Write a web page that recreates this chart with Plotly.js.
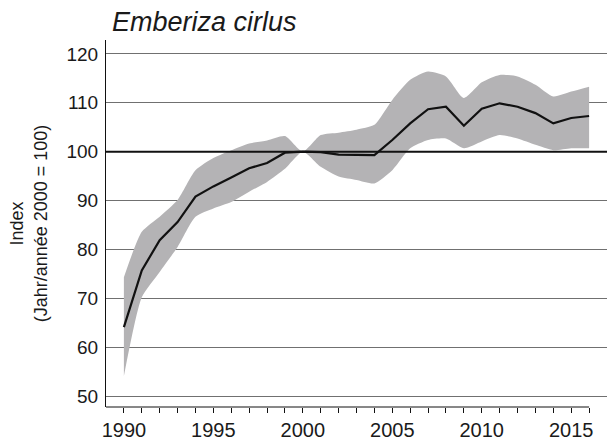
<!DOCTYPE html>
<html>
<head>
<meta charset="utf-8">
<script src="https://cdn.plot.ly/plotly-3.0.1.min.js"></script>
<style>
  html, body { margin: 0; padding: 0; background: #ffffff; }
  #chart { width: 607px; height: 445px; }
</style>
</head>
<body>
<div id="chart"></div>
<script>
// Breeding population index of the Cirl Bunting, base year 2000 = 100
const years = [1990, 1991, 1992, 1993, 1994, 1995, 1996, 1997, 1998, 1999,
               2000, 2001, 2002, 2003, 2004, 2005, 2006, 2007, 2008, 2009,
               2010, 2011, 2012, 2013, 2014, 2015, 2016];

const indexValues = [64.1, 75.7, 81.9, 85.6, 90.8, 92.9, 94.7, 96.6, 97.7, 99.8,
                     100.0, 99.9, 99.4, 99.4, 99.3, 102.4, 105.8, 108.7, 109.2, 105.3,
                     108.8, 109.9, 109.2, 107.9, 105.8, 106.9, 107.3];

// Confidence interval around the index
const upperBound = [74.3, 83.6, 86.7, 90.1, 96.2, 98.7, 100.3, 101.7, 102.3, 103.2,
                    100.0, 103.4, 103.9, 104.5, 105.5, 110.6, 114.7, 116.4, 115.4, 111.0,
                    114.2, 115.7, 115.4, 113.7, 111.3, 112.3, 113.3];

const lowerBound = [54.1, 70.2, 75.4, 80.5, 86.7, 88.4, 89.7, 91.8, 93.8, 96.5,
                    100.0, 96.9, 94.9, 94.2, 93.5, 96.2, 100.7, 102.4, 102.7, 100.7,
                    102.1, 103.4, 102.7, 101.4, 100.3, 100.7, 100.7];

const yTicks = [50, 60, 70, 80, 90, 100, 110, 120];
const xTickYears = years;
const xTickText = years.map(y => (y % 5 === 0 ? String(y) : ''));

const baseValue = 100;
const speciesName = 'Emberiza cirlus';
const yTitle = 'Index<br>(Jahr/année 2000 = 100)';

const FONT = '"Liberation Sans", Arial, sans-serif';
const BAND = '#b4b3b5';

const traces = [
  {
    x: years, y: lowerBound, type: 'scatter', mode: 'lines',
    line: { width: 0, shape: 'spline', smoothing: 0.6 },
    hoverinfo: 'skip', showlegend: false
  },
  {
    x: years, y: upperBound, type: 'scatter', mode: 'lines',
    fill: 'tonexty', fillcolor: BAND,
    line: { width: 0, shape: 'spline', smoothing: 0.6 },
    hoverinfo: 'skip', showlegend: false
  },
  {
    x: years, y: indexValues, type: 'scatter', mode: 'lines',
    line: { color: '#111111', width: 2.2 },
    showlegend: false
  }
];

const layout = {
  width: 607, height: 445,
  margin: { l: 106, r: 0, t: 40, b: 38 },
  paper_bgcolor: '#ffffff', plot_bgcolor: '#ffffff',
  font: { family: FONT, color: '#1a1a1a' },
  showlegend: false,
  title: {
    text: '<i>' + speciesName + '</i>',
    font: { family: FONT, size: 27, color: '#1a1a1a' },
    xref: 'container', yref: 'container',
    x: 112 / 607, xanchor: 'left',
    y: 1 - 22 / 445, yanchor: 'middle'
  },
  xaxis: {
    range: [1989, 2017],
    showgrid: false, zeroline: false, showline: false,
    tickmode: 'array', tickvals: xTickYears, ticktext: xTickText,
    ticks: 'outside', ticklen: 5, tickwidth: 1, tickcolor: '#111111',
    tickfont: { family: FONT, size: 20, color: '#1a1a1a' },
    fixedrange: true
  },
  yaxis: {
    range: [47.75, 122.86],
    tickmode: 'array', tickvals: yTicks,
    showgrid: true, gridcolor: '#707070', gridwidth: 1,
    zeroline: false,
    showline: true, linecolor: '#111111', linewidth: 1,
    ticks: '', ticklabelstandoff: 3,
    tickfont: { family: FONT, size: 19, color: '#1a1a1a' },
    title: {
      text: yTitle,
      font: { family: FONT, size: 18, color: '#1a1a1a' },
      standoff: 14
    },
    fixedrange: true
  },
  shapes: [
    // reference level of the base year
    { type: 'line', xref: 'paper', yref: 'y', x0: 0, x1: 1, y0: baseValue, y1: baseValue,
      line: { color: '#111111', width: 2 } },
    // bottom axis line ending at the last year
    { type: 'line', xref: 'x', yref: 'paper', x0: 1989, x1: years[years.length - 1], y0: 0, y1: 0,
      line: { color: '#111111', width: 1 } }
  ]
};

Plotly.newPlot('chart', traces, layout, { staticPlot: true, displayModeBar: false });
</script>
</body>
</html>
